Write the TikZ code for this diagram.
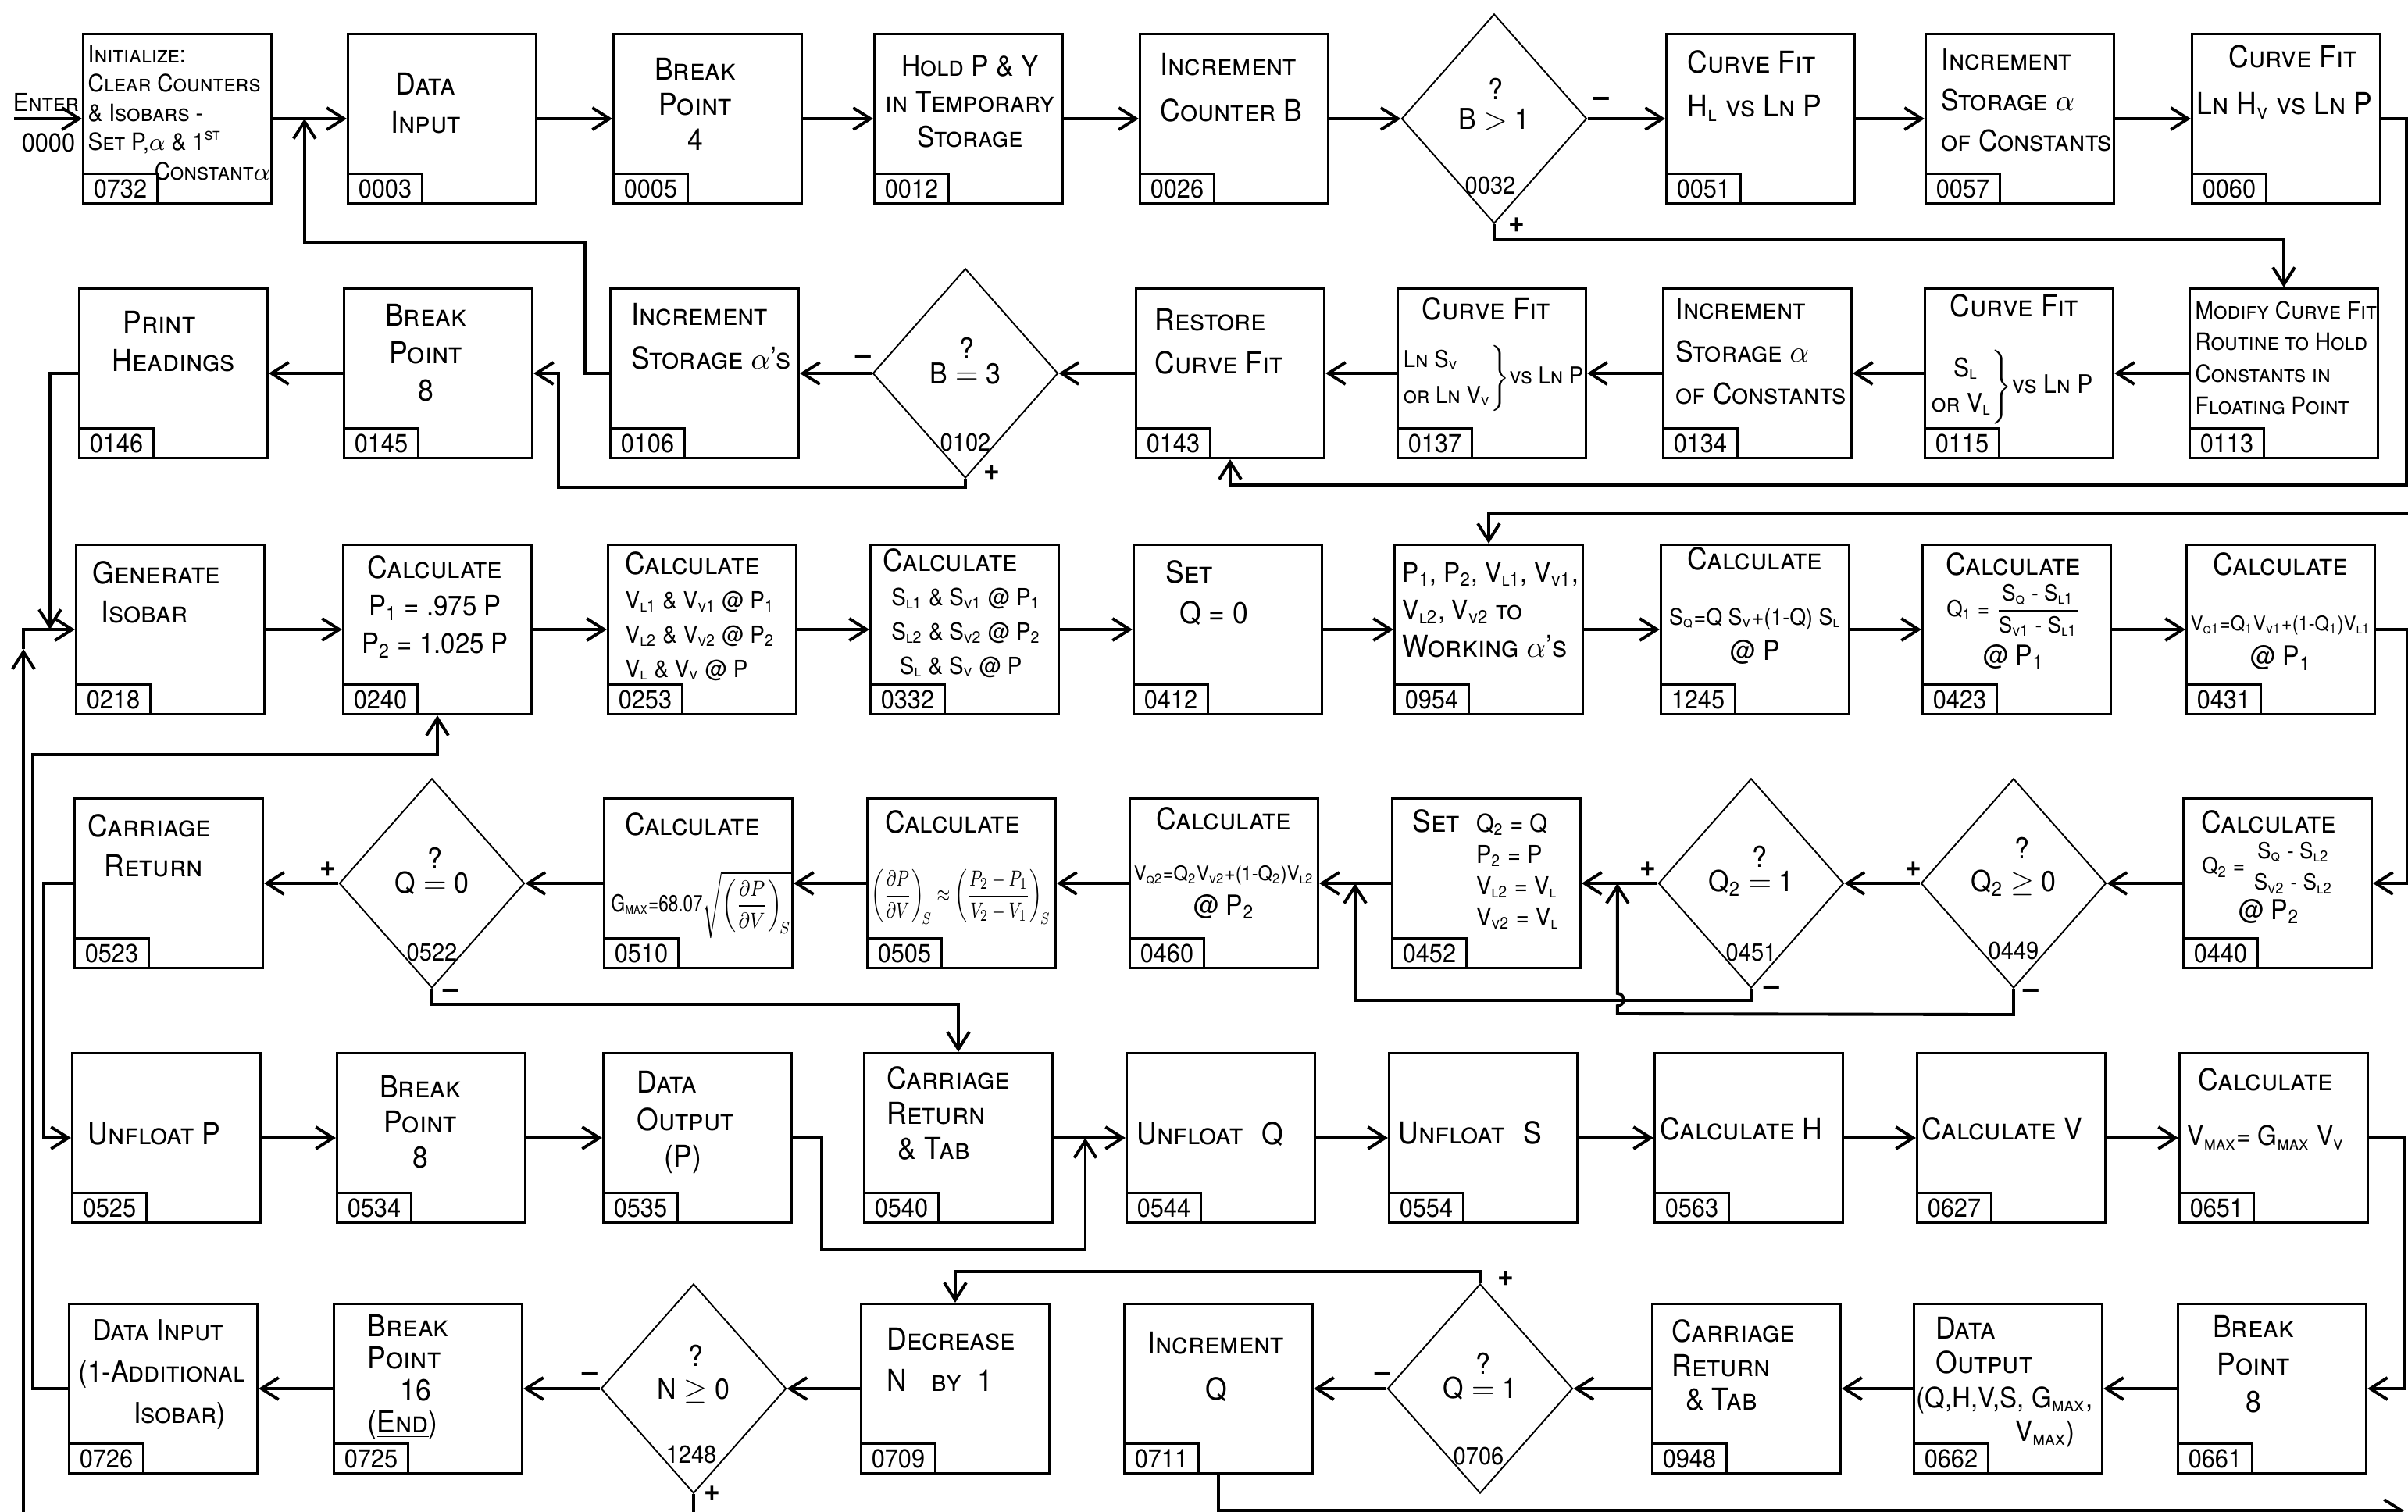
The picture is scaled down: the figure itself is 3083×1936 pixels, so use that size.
\documentclass[tikz,border=0pt]{standalone}
\usepackage{amsmath}
\usepackage{graphicx}
\usepackage{fontspec}
\setmainfont{TeX Gyre Heros}[FakeStretch=0.92]
\usetikzlibrary{arrows.meta,calc,positioning,shapes.geometric}

\newcommand{\fsz}[2]{{\fontsize{#1}{#1}\selectfont #2}}
\newcommand{\qop}[1]{\smash{\shortstack{?\\[2pt]$#1$}}}

\tikzset{
  blk/.style={draw, line width=0.85pt, minimum width=2.41cm, minimum height=2.17cm, inner sep=0pt},
  num/.style={draw, line width=0.85pt, anchor=south west, minimum width=0.95cm, minimum height=0.38cm, inner sep=0pt, font=\fontsize{9.5}{10}\selectfont},
  dia/.style={diamond, draw, line width=0.55pt, minimum width=2.37cm, minimum height=2.68cm, inner sep=0pt, font=\fontsize{10.5}{12}\selectfont},
  txt/.style={align=left, inner sep=0pt, font=\fontsize{11}{#1}\selectfont\scshape},
  txt/.default=13.5,
  lbl/.style={inner sep=0pt, font=\fontsize{9}{10}\selectfont},
  sgn/.style={inner sep=0pt, font=\fontsize{11}{11}\selectfont\bfseries},
  arr/.style={line width=1.1pt, -{Straight Barb[length=2.2mm,width=2.8mm]}},
  lnk/.style={line width=1.1pt}
}

\begin{document}
\begin{tikzpicture}[x=0.01cm,y=-0.01cm]
  \useasboundingbox (0,0) rectangle (3083,1936);

  % process boxes, one row at a time
  \foreach \nm/\x/\n in {init/227/0732,din/566/0003,bp4/906/0005,hold/1240/0012,incb/1580/0026,cf1/2254/0051,inc1/2586/0057,cf2/2927/0060}{
    \node[blk] (\nm) at (\x,152) {};
    \node[num] (\nm-n) at (\nm.south west) {\n};
  }
  \foreach \nm/\x/\n in {ph/222/0146,bp8a/561/0145,incs/902/0106,rcf/1575/0143,cf3/1910/0137,inc2/2250/0134,cf4/2585/0115,mod/2924/0113}{
    \node[blk] (\nm) at (\x,478) {};
    \node[num] (\nm-n) at (\nm.south west) {\n};
  }
  \foreach \nm/\x/\n in {gen/218/0218,calp/560/0240,calv/899/0253,cals/1235/0332,setq/1572/0412,work/1906/0954,calsq/2247/1245,calq1/2582/0423,calv1/2920/0431}{
    \node[blk] (\nm) at (\x,806) {};
    \node[num] (\nm-n) at (\nm.south west) {\n};
  }
  \foreach \nm/\x/\n in {cr1/216/0523,calg/894/0510,cald/1231/0505,calv2/1567/0460,setq2/1903/0452,calq2/2916/0440}{
    \node[blk] (\nm) at (\x,1131) {};
    \node[num] (\nm-n) at (\nm.south west) {\n};
  }
  \foreach \nm/\x/\n in {ufp/213/0525,bp8b/552/0534,dop/893/0535,crt1/1227/0540,ufq/1563/0544,ufs/1899/0554,calh/2239/0563,calvv/2575/0627,vmax/2911/0651}{
    \node[blk] (\nm) at (\x,1457) {};
    \node[num] (\nm-n) at (\nm.south west) {\n};
  }
  \foreach \nm/\x/\n in {din2/209/0726,bp16/548/0725,decn/1223/0709,incq/1560/0711,crt2/2236/0948,dout/2571/0662,bp8c/2909/0661}{
    \node[blk] (\nm) at (\x,1778) {};
    \node[num] (\nm-n) at (\nm.south west) {\n};
  }

  % decisions
  \node[dia] (d1) at (1913,152) {B \qop{>} 1};
  \node[dia] (d2) at (1236,478) {B \qop{=} 3};
  \node[dia] (d3) at (553,1131) {Q \qop{=} 0};
  \node[dia] (d4) at (2242,1131) {Q\textsubscript{2} \qop{=} 1};
  \node[dia] (d5) at (2578,1131) {Q\textsubscript{2} \qop{\geq} 0};
  \node[dia] (d6) at (888,1778) {N \qop{\geq} 0};
  \node[dia] (d7) at (1895,1778) {Q \qop{=} 1};
  \foreach \nm/\x/\y/\n in {d1/1908/238/0032,d2/1236/567/0102,d3/553/1220/0522,d4/2242/1220/0451,d5/2578/1218/0449,d6/885/1863/1248,d7/1893/1865/0706}{
    \node[lbl] (\nm-n) at (\x,\y) {\n};
  }
  \node[sgn] (d1-m) at (2050,130) {--};
  \node[sgn] (d1-p) at (1942,288) {+};
  \node[sgn] (d2-m) at (1105,460) {--};
  \node[sgn] (d2-p) at (1270,605) {+};
  \node[sgn] (d3-p) at (420,1113) {+};
  \node[sgn] (d3-m) at (577,1272) {--};
  \node[sgn] (d4-p) at (2110,1113) {+};
  \node[sgn] (d4-m) at (2268,1268) {--};
  \node[sgn] (d5-p) at (2450,1113) {+};
  \node[sgn] (d5-m) at (2600,1272) {--};
  \node[sgn] (d6-m) at (755,1763) {--};
  \node[sgn] (d6-p) at (912,1912) {+};
  \node[sgn] (d7-m) at (1770,1763) {--};
  \node[sgn] (d7-p) at (1928,1637) {+};

  % box texts, row 1
  \node[txt, font=\fontsize{9}{10}\selectfont\scshape] (enter-t) at (59,131) {Enter};
  \node[txt, font=\fontsize{9.5}{10}\selectfont] (enter-n) at (62,183) {0000};
  \node[txt=10.7, font=\fontsize{8.7}{10.7}\selectfont\scshape, anchor=north west] (init-t) at (112,57) {Initialize:\\Clear Counters\\\& Isobars -\\Set P,$\alpha$ \& 1\textsuperscript{st}\\\hspace*{0.85cm}Constant$\alpha$};
  \node[txt=14, align=center] (din-t) at (545,132) {Data\\Input};
  \node[txt=12.8, align=center] (bp4-t) at (890,133) {Break\\Point\\4};
  \node[txt=13, font=\fontsize{10.4}{13}\selectfont\scshape, align=center] (hold-t) at (1242,130) {Hold P \& Y\\in Temporary\\Storage};
  \node[txt=16.8, anchor=west] (incb-t) at (1485,112) {Increment\\Counter B};
  \node[txt=16, anchor=west] (cf1-t) at (2160,110) {Curve Fit\\H\textsubscript{l} vs Ln P};
  \node[txt, font=\fontsize{10.5}{14.8}\selectfont\scshape, anchor=west] (inc1-t) at (2485,128) {Increment\\Storage $\alpha$\\of Constants};
  \node[txt=17, align=center] (cf2-t) at (2925,105) {\hspace*{6pt}Curve Fit\\Ln H\textsubscript{v} vs Ln P};

  % row 2
  \node[txt=14, anchor=west] (ph-t) at (143,437) {\hspace*{4pt}Print\\Headings};
  \node[txt=13.6, align=center] (bp8a-t) at (545,452) {Break\\Point\\8};
  \node[txt=16, anchor=west] (incs-t) at (808,431) {Increment\\Storage $\alpha$'s};
  \node[txt=15.6, anchor=west] (rcf-t) at (1478,437) {Restore\\Curve Fit};
  \node[txt=13.3, anchor=north west] (cf3-t) at (1792,380) {\hspace*{8pt}Curve Fit\\[7pt]{\fontsize{8.5}{13}\selectfont$\left.\begin{tabular}{@{}l@{}}Ln S\textsubscript{v}\\or Ln V\textsubscript{v}\end{tabular}\right\}$vs Ln P}};
  \node[txt, font=\fontsize{10.5}{15.6}\selectfont\scshape, anchor=west] (inc2-t) at (2145,450) {Increment\\Storage $\alpha$\\of Constants};
  \node[txt=13.3, anchor=north west] (cf4-t) at (2468,376) {\hspace*{8pt}Curve Fit\\[11pt]{\fontsize{9.3}{13}\selectfont$\left.\begin{tabular}{@{}l@{}}\hspace*{8pt}S\textsubscript{l}\\or V\textsubscript{l}\end{tabular}\right\}$vs Ln P}};
  \node[txt, font=\fontsize{8.7}{11.6}\selectfont\scshape, anchor=west] (mod-t) at (2810,458) {Modify Curve Fit\\Routine to Hold\\Constants in\\Floating Point};

  % row 3
  \node[txt=14.2, anchor=west] (gen-t) at (118,758) {Generate\\\hspace*{3pt}Isobar};
  \node[txt=13.6, align=center] (calp-t) at (557,777) {Calculate\\\fsz{10.2}{P\textsubscript{1} = .975 P}\\\fsz{10.2}{P\textsubscript{2} = 1.025 P}};
  \node[txt=12.5, anchor=west] (calv-t) at (800,789) {Calculate\\\fsz{8.6}{V\textsubscript{l1} \& V\textsubscript{v1} @ P\textsubscript{1}}\\\fsz{8.6}{V\textsubscript{l2} \& V\textsubscript{v2} @ P\textsubscript{2}}\\\fsz{8.6}{V\textsubscript{l} \& V\textsubscript{v} @ P}};
  \node[txt=12.5, anchor=west] (cals-t) at (1130,785) {Calculate\\\hspace*{3pt}\fsz{8.6}{S\textsubscript{l1} \& S\textsubscript{v1} @ P\textsubscript{1}}\\\hspace*{3pt}\fsz{8.6}{S\textsubscript{l2} \& S\textsubscript{v2} @ P\textsubscript{2}}\\\hspace*{6pt}\fsz{8.6}{S\textsubscript{l} \& S\textsubscript{v} @ P}};
  \node[txt=14.8, anchor=west] (setq-t) at (1492,759) {Set\\\hspace*{5pt}Q = 0};
  \node[txt=13.6, anchor=west] (work-t) at (1795,781) {\fsz{9.8}{P\textsubscript{1}, P\textsubscript{2}, V\textsubscript{l1}, V\textsubscript{v1},}\\\fsz{9.8}{V\textsubscript{l2}, V\textsubscript{v2} to}\\Working $\alpha$'s};
  \node[txt=13, align=center] (calsq-t) at (2247,776) {Calculate\\[7pt]\fsz{8.3}{S\textsubscript{q}=Q S\textsubscript{v}+(1-Q) S\textsubscript{l}}\\\fsz{10}{@ P}};
  \node[txt=13, align=center] (calq1-t) at (2578,782) {Calculate\\[2pt]\fsz{8.1}{Q\textsubscript{1} = $\dfrac{\text{S\textsubscript{q} - S\textsubscript{l1}}}{\text{S\textsubscript{v1} - S\textsubscript{l1}}}$}\\[2pt]\fsz{10}{@ P\textsubscript{1}}};
  \node[txt=13, align=center] (calv1-t) at (2920,783) {Calculate\\[7pt]\fsz{7.3}{V\textsubscript{q1}=Q\textsubscript{1}V\textsubscript{v1}+(1-Q\textsubscript{1})V\textsubscript{l1}}\\\fsz{10}{@ P\textsubscript{1}}};

  % row 4
  \node[txt=14.5, anchor=west] (cr1-t) at (112,1083) {Carriage\\\hspace*{6pt}Return};
  \node[txt=13, anchor=north west] (calg-t) at (782,1040) {\hspace*{5pt}Calculate\\[12pt]\scalebox{0.82}[1]{\fsz{8.5}{G\textsubscript{max}=68.07$\sqrt{\left(\dfrac{\partial P}{\partial V}\right)_{\!S}}$}}};
  \node[txt=13, anchor=north west] (cald-t) at (1115,1037) {\hspace*{5pt}Calculate\\[12pt]\scalebox{0.72}[1]{\fsz{8.5}{$\left(\dfrac{\partial P}{\partial V}\right)_{\!S}\approx\left(\dfrac{P_2-P_1}{V_2-V_1}\right)_{\!S}$}}};
  \node[txt=12.5, align=center] (calv2-t) at (1567,1105) {Calculate\\[6pt]\fsz{7.3}{V\textsubscript{q2}=Q\textsubscript{2}V\textsubscript{v2}+(1-Q\textsubscript{2})V\textsubscript{l2}}\\\fsz{10}{@ P\textsubscript{2}}};
  \node[txt=11.4, anchor=west] (setq2-t) at (1808,1117) {\begin{tabular}{@{}l@{\hspace{6pt}}l@{}}Set & \fsz{9}{Q\textsubscript{2} = Q}\\ & \fsz{9}{P\textsubscript{2} = P}\\ & \fsz{9}{V\textsubscript{l2} = V\textsubscript{l}}\\ & \fsz{9}{V\textsubscript{v2} = V\textsubscript{l}}\end{tabular}};
  \node[txt=13, align=center] (calq2-t) at (2905,1110) {Calculate\\[2pt]\fsz{8.1}{Q\textsubscript{2} = $\dfrac{\text{S\textsubscript{q} - S\textsubscript{l2}}}{\text{S\textsubscript{v2} - S\textsubscript{l2}}}$}\\[1pt]\fsz{10}{@ P\textsubscript{2}}};

  % row 5
  \node[txt, anchor=west] (ufp-t) at (112,1452) {Unfloat P};
  \node[txt=12.8, align=center] (bp8b-t) at (538,1437) {Break\\Point\\8};
  \node[txt=13.5, anchor=west] (dop-t) at (815,1437) {Data\\Output\\\hspace*{10pt}(P)};
  \node[txt=12.8, anchor=west] (crt1-t) at (1135,1425) {Carriage\\Return\\\hspace*{4pt}\& Tab};
  \node[txt, anchor=west] (ufq-t) at (1455,1452) {Unfloat\hspace{4pt} Q};
  \node[txt, anchor=west] (ufs-t) at (1790,1450) {Unfloat\hspace{4pt} S};
  \node[txt, anchor=west] (calh-t) at (2125,1445) {Calculate H};
  \node[txt, anchor=west] (calvv-t) at (2460,1445) {Calculate V};
  \node[txt=20, anchor=west] (vmax-t) at (2800,1420) {\hspace*{4pt}Calculate\\\fsz{9.8}{V\textsubscript{max}= G\textsubscript{max} V\textsubscript{v}}};

  % row 6
  \node[txt=15, font=\fontsize{10.5}{15}\selectfont\scshape, anchor=west] (din2-t) at (100,1760) {\hspace*{5pt}Data Input\\(1-Additional\\\hspace*{20pt}Isobar)};
  \node[txt=11.6, anchor=west] (bp16-t) at (470,1763) {Break\\Point\\\hspace*{12pt}16\\(\underline{End})};
  \node[txt=15, anchor=west] (decn-t) at (1135,1741) {Decrease\\N\hspace{6pt} by\hspace{3pt} 1};
  \node[txt=17, align=center] (incq-t) at (1557,1750) {Increment\\Q};
  \node[txt=12.4, anchor=west] (crt2-t) at (2140,1748) {Carriage\\Return\\\hspace*{5pt}\& Tab};
  \node[txt=12.4, anchor=west] (dout-t) at (2453,1770) {\hspace*{7pt}Data\\\hspace*{7pt}Output\\\fsz{10.2}{(Q,H,V,S, G\textsubscript{max},}\\\hspace*{36pt}\fsz{10.2}{V\textsubscript{max})}};
  \node[txt=13.6, align=center] (bp8c-t) at (2885,1747) {Break\\Point\\8};

  % straight links along the rows
  \coordinate (enter) at (18,152);
  \draw[arr] (enter) -- (init);
  \foreach \a/\b in {init/din,din/bp4,bp4/hold,hold/incb,incb/d1,d1/cf1,cf1/inc1,inc1/cf2,
                     mod/cf4,cf4/inc2,inc2/cf3,cf3/rcf,rcf/d2,d2/incs,bp8a/ph,
                     gen/calp,calp/calv,calv/cals,cals/setq,setq/work,work/calsq,calsq/calq1,calq1/calv1,
                     calq2/d5,d5/d4,d4/setq2,setq2/calv2,calv2/cald,cald/calg,calg/d3,d3/cr1,
                     ufp/bp8b,bp8b/dop,crt1/ufq,ufq/ufs,ufs/calh,calh/calvv,calvv/vmax,
                     bp8c/dout,dout/crt2,crt2/d7,d7/incq,decn/d6,d6/bp16,bp16/din2}{
    \draw[arr] (\a) -- (\b);
  }

  % loops and returns
  \coordinate (j1) at ($(init.east)!0.43!(din.west)$);
  \draw[arr] (incs.west) -- ++(-31,0) |- ($(j1)+(0,158)$) -- (j1);
  \draw[arr] (d1.south) -- ++(0,20) -| (mod.north);
  \draw[arr] (cf2.east) -- ++(32,0) |- ($(rcf.south)+(0,33)$) -- (rcf.south);
  \draw[arr] (d2.south) -- ++(0,11) -| ($(bp8a.east)+(32,0)$) -- (bp8a.east);

  \coordinate (jg) at ($(gen.west)+(-32,0)$);
  \coordinate (lb) at (30,1936);
  \draw[arr] (ph.west) -| (jg);
  \draw[arr] (jg) -- (gen);
  \draw[arr] (lb) -- ($(lb |- jg)+(0,25)$);
  \draw[lnk] ($(lb |- jg)+(0,25)$) |- (jg);
  \draw[arr] (din2.west) -- ++(-45,0) |- ($(calp.south)+(0,50)$) -- (calp.south);
  \draw[arr] (cr1.west) -- ++(-38,0) |- (ufp.west);

  \coordinate (re1) at (3083,658);
  \draw[arr] (re1) -| (work.north);
  \draw[arr] (calv1.east) -- ++(40,0) |- (calq2.east);

  \coordinate (j4) at ($(calv2.east)!0.5!(setq2.west)$);
  \coordinate (j5) at ($(setq2.east)!0.47!(d4.west)$);
  \draw[arr] (d4.south) -- ++(0,15) -| (j4);
  \draw[arr] (d5.south) -- ++(0,33) -- ($(j5)+(0,167)$) -- ($(j5)+(0,157)$)
    arc[start angle=-90, end angle=90, radius=0.08cm] -- (j5);

  \draw[arr] (d3.south) -- ++(0,20) -| (crt1.north);
  \coordinate (j6) at ($(crt1.east)!0.44!(ufq.west)$);
  \draw[arr] (dop.east) -- ++(37,0) |- ($(j6)+(0,143)$) -- (j6);
  \draw[arr] (vmax.east) -- ++(45,0) |- (bp8c.east);

  \draw[arr] (d7.north) -- ++(0,-15) -| (decn.north);
  \draw[lnk] (d6.south) -- ++(0,24);
  \draw[arr] (incq.south) -- ++(0,46) -- ++(1518,0);
\end{tikzpicture}
\end{document}
